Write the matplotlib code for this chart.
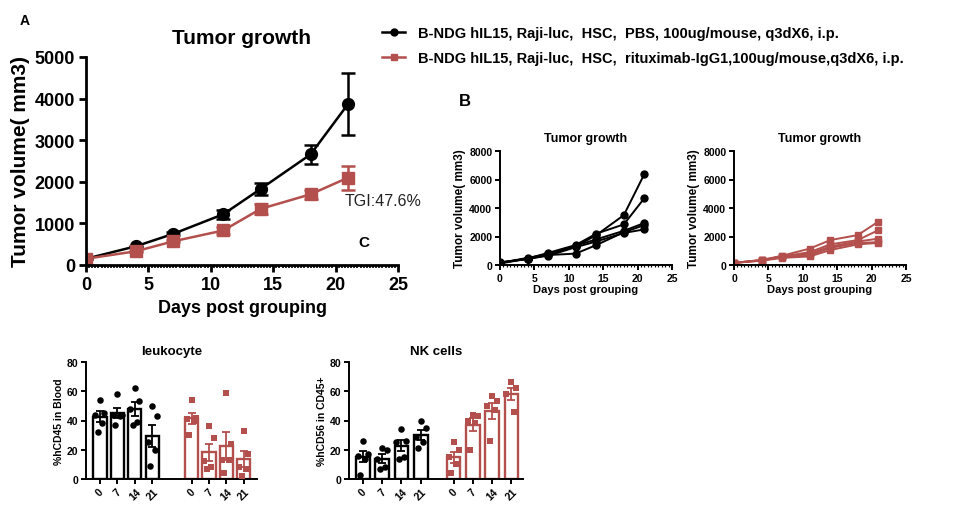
import matplotlib
matplotlib.use("Agg")
import matplotlib.pyplot as plt
from matplotlib.lines import Line2D
from matplotlib.ticker import MultipleLocator
import numpy as np

plt.rcParams["font.family"] = ["Liberation Sans", "Noto Sans CJK SC", "DejaVu Sans"]
plt.rcParams["font.weight"] = "bold"

BLACK = "#000000"
RED = "#B34F4D"

# individual tumor volumes (mm3), one row per mouse
days = [0, 4, 7, 11, 14, 18, 21]
pbs_mice = [
    [150, 450, 800, 1300, 2100, 3500, 6400],
    [100, 450, 850, 1400, 2200, 2850, 4700],
    [150, 500, 750, 1350, 1800, 2400, 2950],
    [200, 400, 700, 800, 1400, 2300, 2800],
    [150, 450, 650, 1250, 1650, 2250, 2500],
]
ritux_mice = [
    [150, 350, 650, 1150, 1750, 2100, 3050],
    [150, 350, 600, 900, 1450, 1750, 2450],
    [150, 330, 550, 800, 1300, 1650, 1850],
    [150, 320, 550, 700, 1200, 1550, 1600],
    [150, 300, 500, 600, 1050, 1450, 1550],
]

legend_labels = [
    "B-NDG hIL15, Raji-luc,  HSC,  PBS, 100ug/mouse, q3dX6, i.p.",
    "B-NDG hIL15, Raji-luc,  HSC,  rituximab-IgG1,100ug/mouse,q3dX6, i.p.",
]

# blood flow data (% values per mouse) at each sampling day
flow_days = ["0", "7", "14", "21"]
leuko_pbs = [[54, 45, 44, 38, 32], [58, 44, 44, 43, 37], [62, 53, 48, 39, 37], [50, 43, 25, 20, 9]]
leuko_ritux = [[54, 42, 41, 40, 30], [36, 28, 12, 8, 7], [59, 24, 13, 13, 4], [33, 17, 8, 7, 2]]
nk_pbs = [[26, 17, 16, 14, 3], [21, 20, 14, 8, 7], [34, 26, 25, 15, 14], [40, 35, 29, 25, 21]]
nk_ritux = [[25, 20, 15, 10, 4], [44, 43, 40, 38, 20], [57, 53, 50, 47, 26], [66, 62, 58, 46]]

W, H = 975, 506


def px_axes(fig, x0, y0, x1, y1):
    return fig.add_axes([x0 / W, 1 - y1 / H, (x1 - x0) / W, (y1 - y0) / H])


def style_axes(ax, lw, fs, minor_x=None):
    for s in ["top", "right"]:
        ax.spines[s].set_visible(False)
    for s in ["left", "bottom"]:
        ax.spines[s].set_linewidth(lw)
    ax.tick_params(width=lw, length=lw * 2.5, labelsize=fs, pad=2)
    if minor_x:
        ax.xaxis.set_minor_locator(MultipleLocator(minor_x))
        ax.tick_params(axis="x", which="minor", width=lw * 0.6, length=lw * 1.2)
    for lab in ax.get_xticklabels() + ax.get_yticklabels():
        lab.set_fontweight("bold")


def sem(a):
    a = np.asarray(a, dtype=float)
    return a.std(axis=0, ddof=1) / np.sqrt(a.shape[0])


fig = plt.figure(figsize=(W / 100, H / 100), dpi=100)

# ---- Panel A: group means +/- SEM
ax = px_axes(fig, 86, 58, 398, 266)
for mice, color, marker in [(pbs_mice, BLACK, "o"), (ritux_mice, RED, "s")]:
    arr = np.array(mice, dtype=float)
    ax.errorbar(days, arr.mean(axis=0), yerr=sem(arr), color=color, marker=marker,
                markersize=8.5, linewidth=1.8, elinewidth=1.8, capsize=5, capthick=1.8)
ax.set_xlim(0, 25)
ax.set_ylim(0, 5000)
ax.set_xticks([0, 5, 10, 15, 20, 25])
ax.set_yticks([0, 1000, 2000, 3000, 4000, 5000])
style_axes(ax, 2, 13, minor_x=0.25)
ax.tick_params(pad=3)
ax.set_title("Tumor growth", fontsize=15, fontweight="bold", pad=10)
ax.set_xlabel("Days post grouping", fontsize=13, fontweight="bold", labelpad=4)
ax.set_ylabel("Tumor volume( mm3)", fontsize=15, fontweight="bold", labelpad=3)
ax.text(20.75, 1540, "TGI:47.6%", fontsize=11.5, fontweight="normal", color="#222222",
        va="center", ha="left")

fig.text(20 / W, 1 - 21 / H, "A", fontsize=10, fontweight="bold", va="center")
fig.text(358 / W, 1 - 243 / H, "C", fontsize=11, fontweight="bold", va="center")
fig.text(459 / W, 1 - 102 / H, "B", fontsize=12, fontweight="bold", va="center")

handles = [
    Line2D([], [], color=BLACK, marker="o", markersize=5, linewidth=1.8),
    Line2D([], [], color=RED, marker="s", markersize=5, linewidth=1.8),
]
fig.legend(handles, legend_labels, loc="upper left", bbox_to_anchor=(376 / W, 1 - 21 / H),
           frameon=False, prop={"weight": "bold", "size": 10.5}, handlelength=1.6,
           handletextpad=0.9, labelspacing=0.75, borderaxespad=0)

# ---- Panel B: individual mice
for (x0, x1), mice, color, marker in [((500, 672), pbs_mice, BLACK, "o"),
                                       ((734, 906), ritux_mice, RED, "s")]:
    axb = px_axes(fig, x0, 152, x1, 266)
    for m in mice:
        axb.plot(days, m, color=color, marker=marker, markersize=5, linewidth=1.4)
    axb.set_xlim(0, 25)
    axb.set_ylim(0, 8000)
    axb.set_xticks([0, 5, 10, 15, 20, 25])
    axb.set_yticks([0, 2000, 4000, 6000, 8000])
    style_axes(axb, 1.4, 7.5, minor_x=0.5)
    axb.set_title("Tumor growth", fontsize=9, fontweight="bold", pad=7)
    axb.set_xlabel("Days post grouping", fontsize=8, fontweight="bold", labelpad=1)
    axb.set_ylabel("Tumor volume( mm3)", fontsize=8.5, fontweight="bold", labelpad=2)

# ---- Flow panels: bars (mean +/- SEM) with individual points
jitter = [0.0, 0.26, -0.26, 0.13, -0.13]
flow_panels = [
    ((86, 257), leuko_pbs, leuko_ritux, 5.25, (-0.8, 9.0), 0.75, "leukocyte", "%hCD45 in Blood"),
    ((349, 523), nk_pbs, nk_ritux, 4.7, (-0.72, 8.3), 0.7, "NK cells", "%hCD56 in CD45+"),
]
for (x0, x1), g1, g2, offset, xlim, bw, title, ylabel in flow_panels:
    axf = px_axes(fig, x0, 363, x1, 480)
    pos_all, lab_all = [], []
    for groups, color, marker, start in [(g1, BLACK, "o", 0.0), (g2, RED, "s", offset)]:
        for i, vals in enumerate(groups):
            pos = start + i
            v = np.array(vals, dtype=float)
            axf.bar(pos, v.mean(), width=bw, facecolor="white", edgecolor=color,
                    linewidth=1.7, zorder=1)
            axf.errorbar(pos, v.mean(), yerr=sem(v), color=color, capsize=3,
                         elinewidth=1.3, capthick=1.3, zorder=2)
            axf.scatter(pos + np.array(jitter[:len(v)]), v, color=color, marker=marker,
                        s=22, zorder=3, linewidths=0)
            pos_all.append(pos)
            lab_all.append(flow_days[i])
    axf.set_xlim(*xlim)
    axf.set_ylim(0, 80)
    axf.set_yticks([0, 20, 40, 60, 80])
    axf.set_xticks(pos_all)
    axf.set_xticklabels(lab_all, rotation=45, ha="center")
    style_axes(axf, 1.4, 7.5)
    axf.set_title(title, fontsize=9.5, fontweight="bold", pad=6)
    axf.set_ylabel(ylabel, fontsize=7.5, fontweight="bold", labelpad=2)

fig.savefig("out.png", dpi=100)
